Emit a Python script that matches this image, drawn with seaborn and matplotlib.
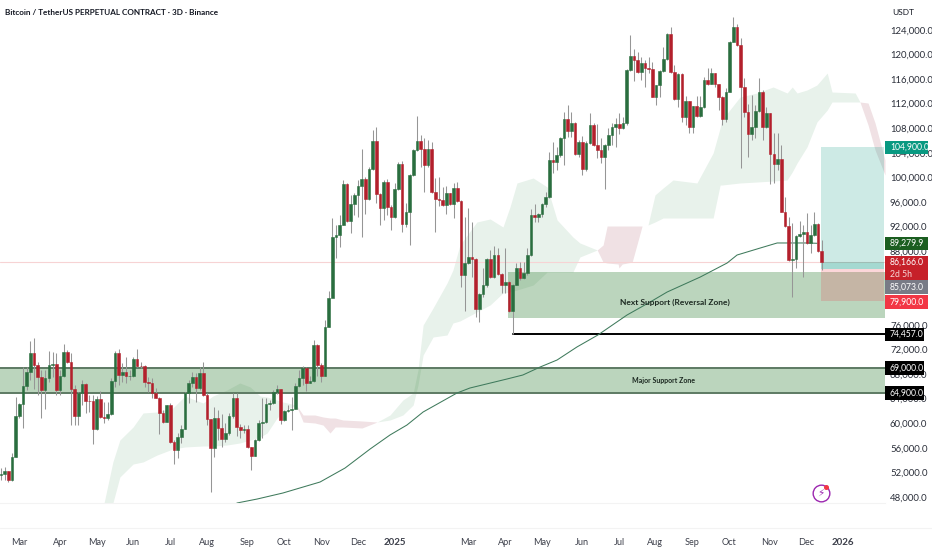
import matplotlib
matplotlib.use('Agg')
import matplotlib.pyplot as plt
from matplotlib.lines import Line2D
from matplotlib.patches import Rectangle
import seaborn as sns

first_open = 51600
closes = [51750, 52180, 50770, 54450, 61180, 63130, 66060, 68340, 71380, 69480,
          67580, 65410, 67310, 69480, 69590, 65410, 67690, 71650, 70020, 65570,
          61180, 64870, 66390, 63680, 63650, 59010, 63890, 61070, 60800, 61500,
          66930, 71380, 67900, 68390, 67690, 67740, 70510, 69310, 69300, 66770,
          66600, 64870, 64160, 61720, 60260, 62920, 56950, 55650, 57710, 59120,
          64870, 66600, 67470, 65730, 68230, 64600, 60640, 55920, 60800, 59280,
          57380, 58360, 61180, 64110, 59340, 58900, 59120, 56080, 54670, 57280,
          59990, 60200, 63130, 63240, 65090, 65520, 60530, 62050, 62160, 62260,
          66060, 67420, 68990, 66600, 66930, 72680, 69400, 67690, 75720, 80320,
          90360, 90580, 92250, 98930, 92960, 95670, 97190, 98600, 99790, 96540,
          101310, 105980, 97300, 95080, 99300, 95240, 93500, 98060, 102130, 92420,
          94430, 100390, 104460, 105980, 104620, 101960, 104570, 97630, 96430, 96320,
          95560, 97410, 95670, 98220, 96160, 84170, 86020, 87100, 86780, 78540,
          81030, 82490, 86780, 83740, 87370, 84280, 82490, 83040, 78320, 82490,
          85210, 83580, 84390, 87370, 93880, 93610, 93990, 95670, 96760, 102830,
          102560, 103590, 106410, 109560, 107600, 108800, 103810, 105710, 101310, 105650,
          108530, 105270, 104460, 103270, 105270, 106840, 108250, 108690, 107980, 108800,
          117470, 119750, 119100, 117090, 118560, 117750, 117690, 113130, 114980, 117370,
          119210, 123330, 117200, 112760, 116820, 109880, 112480, 108150, 111620, 109990,
          111400, 115850, 115200, 116930, 115200, 113130, 109560, 113950, 122080, 124520,
          121540, 114760, 110640, 107060, 108150, 110860, 113950, 108250, 110420, 103810,
          102180, 102940, 94430, 92150, 86560, 86670, 90460, 90790, 91170, 89270,
          90630, 92360, 88080, 86166]
highs = [52660, 52940, 52290, 55110, 64330, 63240, 69210, 69210, 73440, 73820,
         70020, 68660, 68660, 71810, 71650, 71380, 68660, 72890, 71920, 71380,
         66220, 65140, 67040, 66500, 64600, 64600, 64430, 65300, 63510, 63510,
         67310, 71810, 72020, 69750, 70720, 68660, 70830, 72020, 70020, 69480,
         67470, 67310, 65680, 64330, 62160, 62970, 63240, 57280, 58360, 59720,
         65140, 67040, 68390, 68120, 69210, 70020, 64870, 60750, 62700, 62160,
         61510, 59990, 61720, 64980, 64980, 59880, 59720, 59720, 56190, 57380,
         60530, 64050, 64050, 63780, 65410, 66220, 65570, 62160, 62970, 64330,
         66500, 68660, 69310, 69210, 67690, 73550, 72890, 69800, 76800, 81570,
         93340, 92260, 93880, 99580, 99030, 97140, 97410, 99580, 104570, 100120,
         101750, 107710, 108250, 97410, 99580, 99690, 95510, 99030, 102560, 102670,
         95780, 100550, 104570, 109990, 106900, 106350, 106080, 105810, 99850, 100010,
         98380, 98600, 97520, 99030, 99300, 96320, 93610, 94970, 92800, 86890,
         81140, 85210, 86890, 88190, 88840, 88460, 84500, 88460, 83150, 82600,
         86020, 86290, 86290, 88460, 94800, 95670, 94150, 95780, 97680, 104190,
         105810, 104990, 106630, 110700, 111780, 110700, 109070, 106090, 106740, 105980,
         110530, 108800, 108690, 106360, 105430, 107980, 108800, 109610, 110420, 109880,
         117580, 123170, 120840, 120460, 119640, 119100, 119640, 118830, 115030, 117470,
         121270, 123440, 124415, 118290, 116930, 116930, 113250, 112480, 111620, 113250,
         113250, 116390, 117750, 117750, 117040, 115200, 113250, 114490, 122250, 126040,
         124960, 122630, 116120, 111890, 113410, 111780, 116120, 114300, 111510, 110530,
         107280, 107280, 105270, 96760, 93610, 92530, 90630, 92960, 92260, 94150,
         92260, 94430, 92640, 89820]
lows = [50770, 50770, 50500, 50660, 54450, 60800, 59170, 65410, 67040, 65520,
        64600, 60800, 62260, 66770, 67580, 64600, 64600, 67580, 69750, 59720,
        59720, 59720, 62970, 61720, 61890, 56620, 58900, 60800, 60100, 60530,
        61340, 65950, 66220, 66770, 66500, 67040, 67580, 69210, 68940, 65950,
        65140, 64050, 64050, 58250, 60100, 60150, 56730, 53370, 54290, 56730,
        59010, 63240, 65950, 63510, 65410, 64430, 59720, 48870, 54560, 57280,
        56190, 57000, 58090, 60800, 57930, 57550, 58360, 55920, 52400, 54670,
        57170, 57550, 60100, 62160, 63130, 64760, 59880, 60420, 61890, 58900,
        62260, 65950, 66220, 65300, 66500, 66770, 67690, 66760, 67690, 75610,
        86670, 86830, 88730, 92250, 92800, 90900, 93880, 93610, 90250, 94050,
        96320, 101200, 95780, 92250, 93070, 93880, 91440, 93340, 97950, 91170,
        91980, 88990, 100230, 104350, 101750, 97680, 101750, 97520, 91170, 95350,
        95350, 94050, 95460, 93340, 96050, 82220, 78320, 85910, 83740, 77340,
        76530, 80600, 82220, 83580, 83580, 84120, 81250, 81140, 78160, 74470,
        82490, 83310, 83420, 84120, 87210, 92800, 92800, 93610, 95240, 96600,
        100770, 101200, 103370, 102020, 106630, 106520, 103640, 103370, 100390, 101100,
        105430, 105110, 103100, 102290, 98060, 104460, 105270, 104990, 107060, 107820,
        108530, 117310, 115740, 116930, 115850, 114650, 116930, 113030, 111780, 113030,
        117200, 119100, 116930, 112590, 111510, 109070, 108530, 107280, 107170, 109880,
        109880, 111350, 115030, 115200, 114760, 110970, 108530, 109070, 113840, 121970,
        121380, 101470, 109880, 103370, 106090, 106360, 110700, 106090, 107980, 98930,
        99030, 101200, 94320, 91980, 86450, 80600, 85210, 90360, 83850, 89160,
        87760, 90470, 87920, 84940]
bars = list(range(len(closes)))
opens = [first_open] + closes[:-1]

# 200 average
ma_x = [64.1, 69.6, 76.6, 86.7, 93.5, 100.3, 105.7, 110.3, 114.7, 123.9, 127.4, 137.5, 141.8, 146.5,
        151.1, 156.5, 162.2, 170.1, 176.4, 181, 190, 197.3, 200, 206.3, 210.9, 213.6, 219, 221.7]
ma_y = [47020, 47670, 48650, 50440, 52720, 55810, 58090, 59710, 61830, 64920, 65730, 67200, 67850, 69150,
        70290, 72410, 74360, 77610, 79730, 81350, 83790, 86070, 87370, 88510, 89330, 89330, 89330, 89280]

# ichimoku cloud pieces
green1_x = [28, 30.4, 32.3, 35.9, 38.6, 42.4, 46.7, 50, 54.9, 57.6, 61.4, 64.9, 67.7, 70.4, 72.3, 75, 76.6, 80.2]
green1_up = [47020, 53700, 57270, 59390, 61670, 61830, 62480, 64430, 63290, 64430, 65410, 66550, 65900, 64430, 64270, 63780, 63460, 62970]
green1_lo = [47020, 47020, 51250, 53370, 53700, 54830, 55810, 56140, 56300, 56300, 56460, 56790, 57270, 57760, 58410, 60850, 61830, 62970]
red1_x = [80.2, 82.1, 85.3, 87.5, 89.4, 90.8, 92.9, 98.1, 102.2]
red1_up = [62970, 61340, 61340, 61020, 60850, 60850, 60530, 60370, 60200]
red1_lo = [62970, 60200, 60040, 59710, 58410, 59390, 59390, 59230, 60200]
green2_x = [102.2, 105.7, 109.2, 112, 113.3, 114.7, 117.4, 121.2, 122.8, 124.7, 129.3, 132.9, 136.4, 138.3,
            140.2, 144.6, 148.4, 151.1, 155.4, 157.3, 162]
green2_up = [60200, 61340, 63780, 64920, 68660, 75980, 78750, 82820, 84930, 89000, 92740, 93230, 91930, 95180,
             99090, 99900, 98440, 93070, 90300, 89330, 88190]
green2_lo = [60200, 60530, 61340, 62970, 66220, 71100, 74030, 74360, 76310, 76640, 78100, 79240, 81190, 81350,
             81680, 82490, 84610, 84610, 84610, 87050, 88190]
red2_x = [162, 163.6, 164.7, 167.7, 167.9, 168.8, 171.5, 174.2]
red2_up = [88190, 89000, 92090, 92090, 92090, 92090, 92090, 92090]
red2_lo = [88190, 86230, 86070, 85910, 85260, 85910, 86230, 92090]
green3_x = [174.2, 175.8, 177.7, 179.9, 182.6, 189.1, 193.5, 195.4, 195.9, 200.8, 205.4, 209.8, 213.6, 215, 216.3,
            219, 221.7, 224.5, 225.8, 232.1, 233.4]
green3_up = [92090, 92250, 97140, 98270, 99580, 99090, 103970, 108040, 109340, 113080, 113730, 114710, 113730, 114710, 113730,
             114220, 115030, 116980, 113890, 113730, 112270]
green3_lo = [92090, 92250, 92740, 93390, 93390, 93390, 93390, 98760, 98760, 99090, 99250, 99410, 99580, 100880, 102340,
             104950, 109010, 110960, 112270, 112270, 112270]
red3_x = [233.4, 235.6, 237.5, 240.2]
red3_up = [112270, 112100, 108850, 102830]
red3_lo = [112270, 108520, 104460, 100390]

price_ticks = list(range(48000, 124001, 4000))
month_pos = [4.9, 16, 26, 35.9, 45.9, 56, 66.8, 76.9, 87, 97, 107, 126.9, 137, 147, 157.9, 167.9, 177.7, 187.8,
             197.8, 208.7, 218.8, 228.8]
month_labels = ['Mar', 'Apr', 'May', 'Jun', 'Jul', 'Aug', 'Sep', 'Oct', 'Nov', 'Dec', '2025',
                'Mar', 'Apr', 'May', 'Jun', 'Jul', 'Aug', 'Sep', 'Oct', 'Nov', 'Dec', '2026']

sns.set_theme(style='white')
plt.rcParams['font.family'] = ['Lato', 'DejaVu Sans']

fig = plt.figure(figsize=(9.32, 5.5), dpi=100)
ax = fig.add_axes([0, 47 / 550, 885 / 932, 503 / 550])
ax.set_xlim(-0.27, 240.2)
ax.set_ylim(47024, 128862)

cloud_green = '#e8f2eb'
cloud_red = '#f0e1e4'
ax.fill_between(green1_x, green1_lo, green1_up, color=cloud_green, lw=0, zorder=1)
ax.fill_between(red1_x, red1_lo, red1_up, color=cloud_red, lw=0, zorder=1)
ax.fill_between(green2_x, green2_lo, green2_up, color=cloud_green, lw=0, zorder=1)
ax.fill_between(red2_x, red2_lo, red2_up, color=cloud_red, lw=0, zorder=1)
ax.fill_between(green3_x, green3_lo, green3_up, color=cloud_green, lw=0, zorder=1)
ax.fill_between(red3_x, red3_lo, red3_up, color=cloud_red, lw=0, zorder=1)

# zones
zone_green = '#2e7d32'
ax.add_patch(Rectangle((137.8, 77120), 240.2 - 137.8, 84610 - 77120, color=zone_green, alpha=0.32, lw=0, zorder=2))
ax.axhspan(64900, 69000, color=zone_green, alpha=0.32, lw=0, zorder=2)
ax.axhline(69000, color='#5d7a63', lw=1.4, zorder=2.2)
ax.axhline(64900, color='#5d7a63', lw=1.4, zorder=2.2)
ax.plot([139, 240.2], [74457, 74457], color='black', lw=1.4, zorder=2.2)
ax.axhline(86166, color='#f7d3d4', lw=0.8, zorder=1.5)

# long/short box
ax.add_patch(Rectangle((222.8, 85073), 240 - 222.8, 104900 - 85073, color='#089981', alpha=0.2, lw=0, zorder=2))
ax.add_patch(Rectangle((222.8, 85073), 240 - 222.8, 86166 - 85073, color='#089981', alpha=0.2, lw=0, zorder=2))
ax.add_patch(Rectangle((222.8, 79900), 240 - 222.8, 85073 - 79900, color='#f23645', alpha=0.2, lw=0, zorder=2))

sns.lineplot(x=ma_x, y=ma_y, color='#3f7a5c', lw=0.75, ax=ax, zorder=2.5, estimator=None, sort=False)

# candles
up_col = '#2a6e3f'
down_col = '#b3202c'
colors = [up_col if c >= o else down_col for o, c in zip(opens, closes)]
ax.vlines(bars, lows, highs, color='#969696', lw=0.75, zorder=3)
ax.bar(bars, [abs(c - o) for o, c in zip(opens, closes)], bottom=[min(o, c) for o, c in zip(opens, closes)],
       width=0.72, color=colors, edgecolor=colors, lw=0.4, zorder=3.2)

ax.yaxis.tick_right()
ax.set_yticks(price_ticks)
ax.set_yticklabels([f'{p:,.1f}' for p in price_ticks], fontsize=6.9, color='#2a2e39')
ax.set_xticks(month_pos)
ax.set_xticklabels(month_labels, fontsize=6.6, color='#3c3f4a')
for lab in ax.get_xticklabels():
    if lab.get_text() in ('2025', '2026'):
        lab.set_fontweight('bold')
        lab.set_fontsize(7)
ax.tick_params(axis='y', length=0, pad=3.6)
ax.tick_params(axis='x', length=0, pad=25)
sns.despine(ax=ax, left=True, top=True, right=True)
ax.spines['bottom'].set_color('#f3f3f3')
ax.spines['bottom'].set_linewidth(0.8)
fig.add_artist(Line2D([0, 1], [22 / 550, 22 / 550], color='#f3f3f3', lw=0.8))

ax.text(620 / 885, 79650, 'Next Support (Reversal Zone)', transform=ax.get_yaxis_transform(), fontsize=6.0,
        fontweight='bold', color='#1d2a22', va='center', zorder=5)
ax.text(664 / 885, 67000, 'Major Support Zone', transform=ax.get_yaxis_transform(), ha='center', fontsize=5.0,
        fontweight='bold', color='#1d2a22', va='center', zorder=5)


def badge(price, label, bg, fg='white', width=43):
    ax.add_patch(Rectangle((1, price - 1100), width / 885, 2200, transform=ax.get_yaxis_transform(),
                           facecolor=bg, edgecolor='none', clip_on=False, zorder=8))
    ax.text(1 + 5 / 885, price, label, transform=ax.get_yaxis_transform(), fontsize=6.2, color=fg,
            va='center', ha='left', zorder=9, clip_on=False)


# tail of the last price badge, holds the countdown
ax.add_patch(Rectangle((1, 83300), 43 / 885, 1800, transform=ax.get_yaxis_transform(), facecolor='#c62029',
                       edgecolor='none', clip_on=False, zorder=8))
badge(104900, '104,900.0', '#089981')
badge(89279.9, '89,279.9', '#1b5e20')
badge(86166, '86,166.0', '#c62029')
ax.text(1 + 5 / 885, 84120, '2d 5h', transform=ax.get_yaxis_transform(), fontsize=6.2, color='#f8d8d8',
        va='center', zorder=9, clip_on=False)
badge(82170, '85,073.0', '#787b86')
badge(79700, '79,900.0', '#f23645')
badge(74457, '74,457.0', 'black', width=39)
badge(69000, '69,000.0', 'black', width=39)
badge(64900, '64,900.0', 'black', width=39)

# flash icon
ax.plot([222.8], [48700], marker='o', ms=12, mfc='white', mec='#9c27b0', mew=1.0, zorder=6, clip_on=False)
ax.text(222.8, 48700, '\u26a1', fontsize=7.5, color='#9c27b0', ha='center', va='center', zorder=7,
        family=['DejaVu Sans'])
ax.plot([224.1], [49630], marker='o', ms=2.6, color='#f23645', zorder=7)

fig.text(5 / 932, 1 - 12.5 / 550, 'Bitcoin / TetherUS PERPETUAL CONTRACT \u00b7 3D \u00b7 Binance', fontsize=5.9,
         fontweight='bold', color='#131722', va='center')
fig.text(892 / 932, 1 - 12.5 / 550, 'USDT', fontsize=6.0, color='#131722', va='center')

fig.savefig('out.png', dpi=100)
